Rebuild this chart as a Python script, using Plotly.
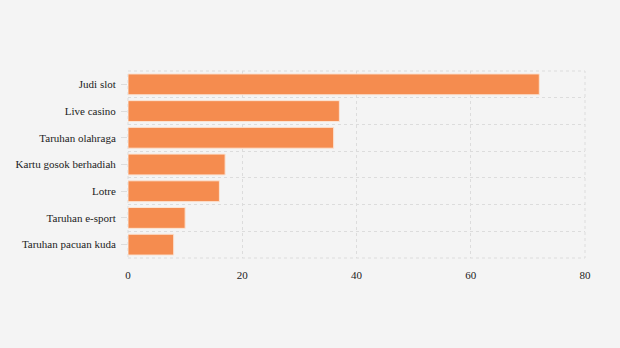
import plotly.graph_objects as go

categories = ["Judi slot", "Live casino", "Taruhan olahraga", "Kartu gosok berhadiah",
              "Lotre", "Taruhan e-sport", "Taruhan pacuan kuda"]
values = [72, 37, 36, 17, 16, 10, 8]
x_ticks = [0, 20, 40, 60, 80]

positions = list(range(len(categories)))
boundaries = [p - 0.5 for p in positions] + [positions[-1] + 0.5]

BG = "#f4f4f4"
GRID = "#dcdcdc"
FONT = "Liberation Serif"

fig = go.Figure(go.Bar(
    x=values, y=positions, orientation="h",
    marker=dict(color="#f58c4f", line=dict(color="#fbe3d3", width=1)),
    hoverinfo="x+y",
))

fig.update_layout(
    width=620, height=348,
    paper_bgcolor=BG, plot_bgcolor=BG,
    margin=dict(l=128, r=35, t=71, b=90),
    bargap=0.22,
    showlegend=False,
    font=dict(family=FONT, size=11, color="#222222"),
    shapes=[dict(type="rect", xref="paper", yref="paper", x0=0, x1=1, y0=0, y1=1,
                 line=dict(color=GRID, width=1, dash="dot"), layer="below")],
)

fig.update_xaxes(
    range=[0, 80], tickvals=x_ticks, ticktext=[str(v) for v in x_ticks],
    showgrid=True, gridcolor=GRID, griddash="dot", gridwidth=1,
    zeroline=False, showline=False, ticks="", ticklabelstandoff=9,
    tickfont=dict(family=FONT, size=11, color="#222222"),
)
fig.update_yaxes(
    range=[positions[-1] + 0.5, positions[0] - 0.5],
    tickvals=positions, ticktext=categories,
    showgrid=False, zeroline=False, showline=False,
    ticks="outside", ticklen=6, tickcolor="#dddddd", tickwidth=1,
    ticklabelstandoff=3,
    tickfont=dict(family=FONT, size=11, color="#222222"),
    minor=dict(tickvals=boundaries, showgrid=True, gridcolor=GRID,
               griddash="dot", gridwidth=1, ticks=""),
)

fig.write_html("out.html")
